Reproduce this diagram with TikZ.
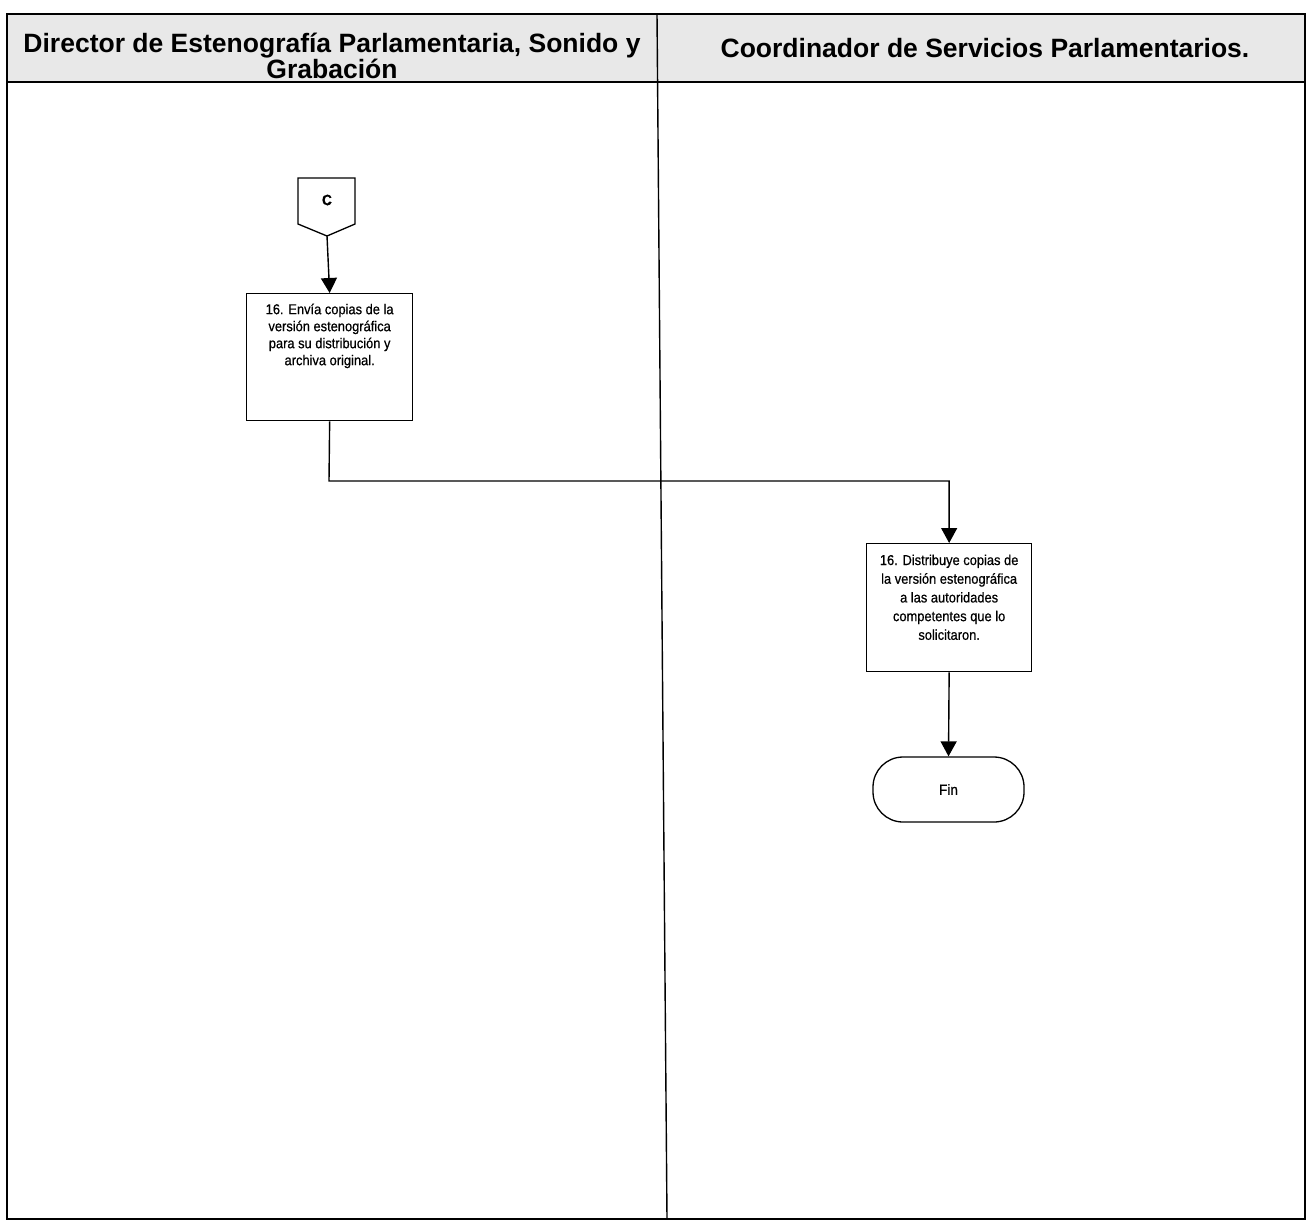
\documentclass[tikz,border=0pt]{standalone}
\usepackage{fontspec}
\setmainfont{Liberation Sans}
\newfontfamily\narrowfont[FakeStretch=0.9,FakeBold=0.6]{Liberation Sans}
\usetikzlibrary{arrows.meta}
\begin{document}
\begin{tikzpicture}[x=1pt,y=-1pt,
  lane/.style={line width=1.4pt},
  proc/.style={draw, line width=1.3pt, inner sep=0pt, anchor=north west},
  flow/.style={line width=1.4pt, -{Triangle[width=16pt,length=15pt]}},
  head/.style={font=\bfseries\fontsize{26.5}{25}\selectfont, align=center}]
\useasboundingbox (0,0) rectangle (1308,1221);
% header band
\fill[gray!18] (7,14) rectangle (1305,82);
\draw[lane] (7,82) -- (1305,82);
\draw[lane] (7,14) rectangle (1305,1219);
\draw[lane] (657,14) -- (667,1219);
\node[head] (hL) at (332,56) {Director de Estenografía Parlamentaria, Sonido y\\Grabación};
\node[head] (hR) at (985,48) {Coordinador de Servicios Parlamentarios.};
% off-page connector C
\draw[line width=1.3pt] (298,178) -- (355,178) -- (355,224) -- (327,236) -- (298,224) -- cycle;
\node[font=\narrowfont\bfseries\fontsize{15}{17}\selectfont] (C) at (327,200) {C};
\coordinate (Cb) at (327,236);
% process 1
\node[proc] (b1) at (246,293) {\parbox[c][127pt][t]{166pt}{\centering\vspace*{10pt}%
  \narrowfont\fontsize{14.3}{17}\selectfont 16. Envía copias de la\\versión estenográfica\\para su distribución y\\archiva original.}};
\draw[flow] (Cb) -- (b1.north);
% process 2
\node[proc] (b2) at (866,543) {\parbox[c][128pt][t]{165pt}{\centering\vspace*{11pt}%
  \narrowfont\fontsize{14.3}{18.7}\selectfont 16. Distribuye copias de\\la versión estenográfica\\a las autoridades\\competentes que lo\\solicitaron.}};
\coordinate (t1) at (329,481);
\draw[flow] (b1.south) -- (t1) -| (b2.north);
% end
\node[draw, line width=1.3pt, rounded corners=30pt, minimum width=151pt, minimum height=65pt,
  font=\narrowfont\fontsize{15}{17}\selectfont] (fin) at (948.5,789.5) {Fin};
\draw[flow] (b2.south) -- (fin.north);
\end{tikzpicture}
\end{document}
